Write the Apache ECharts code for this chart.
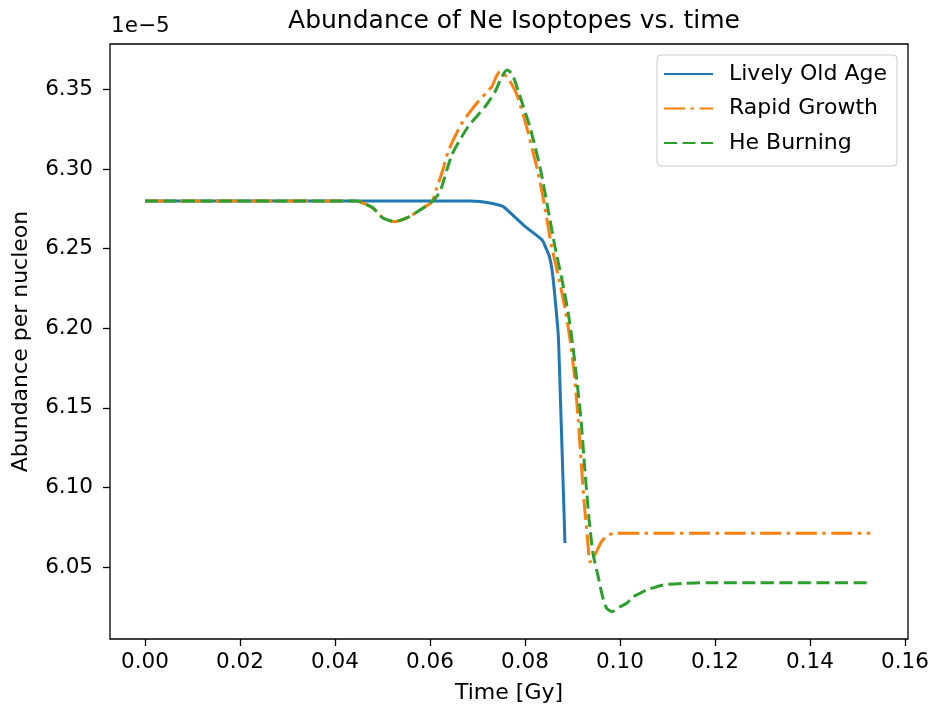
<!DOCTYPE html>
<html>
<head>
<meta charset="utf-8">
<script src="https://cdn.jsdelivr.net/npm/echarts@6/dist/echarts.min.js"></script>
<style>
html,body{margin:0;padding:0;background:#fff}
#chart{width:932px;height:711px}
</style>
</head>
<body>
<div id="chart"></div>
<script>
// values in units of 1e-5
var xTickMin = 0, xTickMax = 0.16, xTickStep = 0.02;
var yTickMin = 6.05, yTickMax = 6.35, yTickStep = 0.05;

var livelyT = [0, 0.02, 0.04, 0.06, 0.0684, 0.0705, 0.0726, 0.074, 0.0754, 0.08, 0.0836, 0.0844, 0.0851, 0.0857, 0.0863, 0.0870, 0.0874, 0.0878, 0.0882, 0.0884];
var livelyV = [6.2800, 6.2800, 6.2800, 6.2800, 6.2800, 6.2797, 6.2787, 6.2778, 6.2765, 6.2640, 6.2555, 6.2504, 6.2454, 6.2366, 6.2197, 6.1958, 6.1612, 6.1235, 6.0858, 6.0651];

var rapidT = [0, 0.02, 0.04, 0.0446, 0.0459, 0.0480, 0.0501, 0.0526, 0.0551, 0.0579, 0.0604, 0.0614, 0.0627, 0.0638, 0.0653, 0.0669, 0.0701, 0.0730, 0.0739, 0.0747, 0.0764, 0.0783, 0.0804, 0.0827, 0.0842, 0.0856, 0.0872, 0.0886, 0.0897, 0.0905, 0.0912, 0.0918, 0.0924, 0.0931, 0.0937, 0.0947, 0.0961, 0.0975, 0.0993, 0.1042, 0.1527];
var rapidV = [6.2800, 6.2800, 6.2800, 6.2800, 6.2787, 6.2756, 6.2693, 6.2670, 6.2693, 6.2743, 6.2795, 6.2879, 6.2994, 6.3109, 6.3208, 6.3298, 6.3423, 6.3518, 6.3579, 6.3612, 6.3572, 6.3465, 6.3258, 6.2984, 6.2756, 6.2513, 6.2303, 6.2096, 6.1883, 6.1675, 6.1424, 6.1173, 6.0921, 6.0702, 6.0532, 6.0576, 6.0660, 6.0702, 6.0712, 6.0712, 6.0712];

var heT = [0, 0.02, 0.04, 0.0446, 0.0459, 0.0480, 0.0501, 0.0526, 0.0551, 0.0579, 0.0604, 0.0621, 0.0646, 0.0680, 0.0716, 0.0737, 0.0751, 0.0762, 0.0773, 0.0785, 0.0811, 0.0832, 0.0848, 0.0863, 0.0878, 0.0891, 0.0901, 0.0909, 0.0918, 0.0926, 0.0935, 0.0943, 0.0954, 0.0965, 0.0972, 0.0983, 0.1000, 0.1014, 0.1028, 0.1042, 0.1056, 0.1091, 0.1133, 0.1183, 0.1527];
var heV = [6.2800, 6.2800, 6.2800, 6.2800, 6.2787, 6.2756, 6.2693, 6.2670, 6.2693, 6.2743, 6.2795, 6.2858, 6.3089, 6.3266, 6.3392, 6.3486, 6.3579, 6.3622, 6.3597, 6.3497, 6.3258, 6.3007, 6.2756, 6.2513, 6.2303, 6.2096, 6.1883, 6.1675, 6.1424, 6.1110, 6.0796, 6.0589, 6.0440, 6.0293, 6.0241, 6.0220, 6.0251, 6.0273, 6.0314, 6.0335, 6.0356, 6.0388, 6.0398, 6.0402, 6.0402];

function pairs(t, v) {
    var out = [];
    for (var i = 0; i < t.length; i++) out.push([t[i], v[i]]);
    return out;
}

// plot box (axes limits incl. matplotlib margins)
var box = {left: 110, top: 44, width: 798, height: 595};
var xLim = [-0.00737, 0.16063];
var yLim = [6.00484, 6.37858];
// second grid covering exactly the tick range, used only for ticks and labels
var pxX = box.width / (xLim[1] - xLim[0]);
var pxY = box.height / (yLim[1] - yLim[0]);
var tickGrid = {
    left: box.left + (xTickMin - xLim[0]) * pxX,
    width: (xTickMax - xTickMin) * pxX,
    top: box.top + (yLim[1] - yTickMax) * pxY,
    height: (yTickMax - yTickMin) * pxY
};
var xOffset = box.top + box.height - (tickGrid.top + tickGrid.height);
var yOffset = tickGrid.left - box.left;

var font = 'DejaVu Sans';
var tickLabel = {fontFamily: font, fontSize: 21.5, color: '#000'};
var myChart = echarts.init(document.getElementById('chart'));
var option = {
    backgroundColor: '#fff',
    animation: false,
    title: {
        text: 'Abundance of Ne Isoptopes vs. time',
        left: 509,
        top: 4,
        textAlign: 'center',
        textStyle: {fontFamily: font, fontSize: 25, fontWeight: 'normal', color: '#000'}
    },
    graphic: [{
        type: 'text',
        left: 111,
        top: 15,
        style: {text: '1e\u22125', fontFamily: font, fontSize: 21.5, fill: '#000'}
    }],
    legend: {
        orient: 'vertical',
        left: 657,
        top: 55,
        padding: [8, 10, 12, 6],
        itemWidth: 49,
        itemHeight: 20,
        itemGap: 12.5,
        backgroundColor: 'rgba(255,255,255,0.8)',
        borderColor: '#cccccc',
        borderWidth: 1,
        borderRadius: 4,
        itemStyle: {opacity: 0, color: 'rgba(0,0,0,0)', borderWidth: 0},
        textStyle: {fontFamily: font, fontSize: 22, color: '#000', padding: [0, 0, 0, 11]},
        data: ['Lively Old Age', 'Rapid Growth', 'He Burning']
    },
    grid: [
        {left: box.left, top: box.top, width: box.width, height: box.height,
         show: true, borderColor: '#000', borderWidth: 1.3},
        {left: tickGrid.left, top: tickGrid.top, width: tickGrid.width, height: tickGrid.height, show: false}
    ],
    xAxis: [
        {
            type: 'value', gridIndex: 0,
            min: xLim[0], max: xLim[1],
            name: 'Time [Gy]',
            nameLocation: 'middle',
            nameGap: 43,
            nameTextStyle: {fontFamily: font, fontSize: 22, color: '#000'},
            axisLine: {show: false, onZero: false},
            axisTick: {show: false},
            axisLabel: {show: false},
            splitLine: {show: false}
        },
        {
            type: 'value', gridIndex: 1,
            min: xTickMin, max: xTickMax, interval: xTickStep,
            offset: xOffset,
            axisLine: {show: false, onZero: false},
            axisTick: {show: true, length: 7, lineStyle: {color: '#000', width: 1.3}},
            axisLabel: Object.assign({margin: 12, formatter: function (v) { return v.toFixed(2); }}, tickLabel),
            splitLine: {show: false}
        }
    ],
    yAxis: [
        {
            type: 'value', gridIndex: 0,
            min: yLim[0], max: yLim[1],
            name: 'Abundance per nucleon',
            nameLocation: 'middle',
            nameGap: 78,
            nameTextStyle: {fontFamily: font, fontSize: 22, color: '#000'},
            axisLine: {show: false, onZero: false},
            axisTick: {show: false},
            axisLabel: {show: false},
            splitLine: {show: false}
        },
        {
            type: 'value', gridIndex: 1,
            min: yTickMin, max: yTickMax, interval: yTickStep,
            offset: yOffset,
            axisLine: {show: false, onZero: false},
            axisTick: {show: true, length: 7, lineStyle: {color: '#000', width: 1.3}},
            axisLabel: Object.assign({margin: 17, formatter: function (v) { return v.toFixed(2); }}, tickLabel),
            splitLine: {show: false}
        }
    ],
    series: [
        {
            name: 'Lively Old Age',
            type: 'line',
            xAxisIndex: 0, yAxisIndex: 0,
            symbol: 'none',
            smooth: 0.2,
            data: pairs(livelyT, livelyV),
            lineStyle: {color: '#1f77b4', width: 3},
            itemStyle: {color: '#1f77b4'},
            z: 2
        },
        {
            name: 'Rapid Growth',
            type: 'line',
            xAxisIndex: 0, yAxisIndex: 0,
            symbol: 'none',
            smooth: 0.2,
            data: pairs(rapidT, rapidV),
            lineStyle: {color: '#ff7f0e', width: 3, type: [21, 5.5, 3.5, 5.5]},
            itemStyle: {color: '#ff7f0e'},
            z: 3
        },
        {
            name: 'He Burning',
            type: 'line',
            xAxisIndex: 0, yAxisIndex: 0,
            symbol: 'none',
            smooth: 0.2,
            data: pairs(heT, heV),
            lineStyle: {color: '#2ca02c', width: 3, type: [13, 5.5]},
            itemStyle: {color: '#2ca02c'},
            z: 4
        }
    ]
};
myChart.setOption(option);
window.onresize = function () {
    myChart.resize();
};
</script>
</body>
</html>
